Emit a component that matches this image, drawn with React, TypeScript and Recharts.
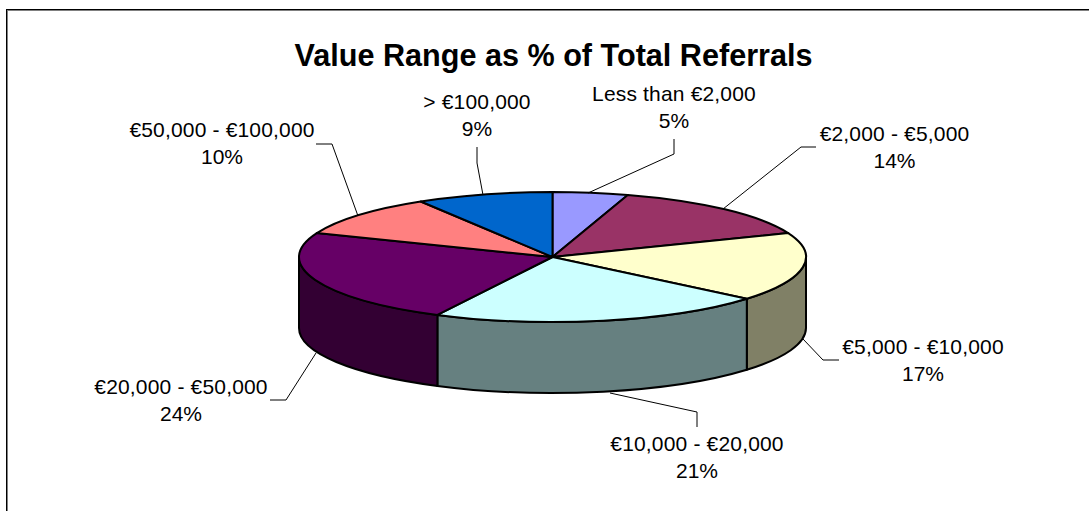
import React from 'react';
import { PieChart, Pie } from 'recharts';

const RANGES = [
  'Less than €2,000',
  '€2,000 - €5,000',
  '€5,000 - €10,000',
  '€10,000 - €20,000',
  '€20,000 - €50,000',
  '€50,000 - €100,000',
  '> €100,000',
];
const SHARES = [4.8, 14.2, 17.1, 21.4, 23.5, 10.3, 8.7];
const TOP_COLORS = ['#9999FF', '#993366', '#FFFFCC', '#CCFFFF', '#660066', '#FF8080', '#0066CC'];
const WALL_COLORS = ['#4D4D80', '#4D1A33', '#808066', '#668080', '#330033', '#804040', '#003366'];

// label text anchor: centre x, first baseline
const LABEL_POS = [
  [674, 101],
  [894.5, 141],
  [923, 354],
  [697, 451],
  [181, 394],
  [222, 137],
  [477, 109],
];
// leader lines, from the label to the rim of the pie
const LEADERS = [
  [[674, 139], [674, 154], [588, 193]],
  [[816, 147], [801, 147], [723, 209]],
  [[839, 360], [823, 360], [803, 339]],
  [[697, 427], [697, 412], [610, 393]],
  [[270, 400], [286, 400], [316, 353]],
  [[316, 144], [332, 144], [358, 216]],
  [[477, 147], [477, 163], [483, 195]],
];

const FONT = '"Liberation Sans", Arial, sans-serif';
const CX = 552.5;
const CY = 257;
const RX = 253.5;
const TILT = 65 / 253.5;
const DEPTH = 71;

const data = RANGES.map((name, i) => ({
  name,
  value: SHARES[i],
  fill: TOP_COLORS[i],
  wall: WALL_COLORS[i],
}));

const rim = (cx: number, cy: number, r: number, deg: number) => {
  const t = (deg * Math.PI) / 180;
  return [cx + r * Math.cos(t), cy - r * TILT * Math.sin(t)];
};

const TopSlice = (props: any) => {
  const { cx, cy, outerRadius: r, startAngle, endAngle, fill } = props;
  const [x1, y1] = rim(cx, cy, r, startAngle);
  const [x2, y2] = rim(cx, cy, r, endAngle);
  const large = Math.abs(startAngle - endAngle) > 180 ? 1 : 0;
  const d = `M${cx},${cy} L${x1},${y1} A${r},${r * TILT} 0 ${large} 1 ${x2},${y2} Z`;
  return <path d={d} fill={fill} stroke="#000" strokeWidth={2} strokeLinejoin="round" />;
};

// only the front half of the rim shows a wall
const WallSlice = (props: any) => {
  const { cx, cy, outerRadius: r, startAngle, endAngle, wall } = props;
  const a = Math.min(startAngle, 0);
  const b = Math.max(endAngle, -180);
  if (a <= b) return <g />;
  const [x1, y1] = rim(cx, cy, r, a);
  const [x2, y2] = rim(cx, cy, r, b);
  const ry = r * TILT;
  const d = `M${x1},${y1} A${r},${ry} 0 0 1 ${x2},${y2} L${x2},${y2 + DEPTH} A${r},${ry} 0 0 0 ${x1},${y1 + DEPTH} Z`;
  return <path d={d} fill={wall} stroke="#000" strokeWidth={2} strokeLinejoin="round" />;
};

const SliceLabel = (props: any) => {
  const { index, percent, name } = props;
  const [x, y] = LABEL_POS[index];
  const pts = LEADERS[index].map((p) => p.join(',')).join(' ');
  return (
    <g>
      <polyline points={pts} fill="none" stroke="#000" strokeWidth={1} />
      <text x={x} y={y} textAnchor="middle" fontFamily={FONT} fontSize={21} letterSpacing={0.17} fill="#000">
        {name}
      </text>
      <text x={x} y={y + 27} textAnchor="middle" fontFamily={FONT} fontSize={21} fill="#000">
        {Math.round(percent * 100)}%
      </text>
    </g>
  );
};

export default function App() {
  return (
    <div style={{ position: 'absolute', left: 0, top: 0, width: 1089, height: 511, background: '#fff' }}>
      <div
        style={{
          position: 'absolute',
          left: 6,
          top: 9,
          right: 0,
          bottom: 0,
          borderLeft: '1px solid #000',
          borderTop: '1px solid #000',
          boxShadow: 'inset 1px 1px 0 #808080',
        }}
      />
      <div style={{ position: 'absolute', left: 0, top: 0 }}>
        <PieChart width={1089} height={511} margin={{ top: 0, right: 0, bottom: 0, left: 0 }}>
          <text x={553.5} y={66} textAnchor="middle" fontFamily={FONT} fontWeight="bold" fontSize={30.6} fill="#000">
            Value Range as % of Total Referrals
          </text>
          <Pie
            data={data}
            dataKey="value"
            nameKey="name"
            cx={CX}
            cy={CY}
            outerRadius={RX}
            startAngle={90}
            endAngle={-270}
            isAnimationActive={false}
            shape={WallSlice}
            label={false}
            labelLine={false}
          />
          <Pie
            data={data}
            dataKey="value"
            nameKey="name"
            cx={CX}
            cy={CY}
            outerRadius={RX}
            startAngle={90}
            endAngle={-270}
            isAnimationActive={false}
            shape={TopSlice}
            label={SliceLabel}
            labelLine={false}
          />
        </PieChart>
      </div>
    </div>
  );
}
